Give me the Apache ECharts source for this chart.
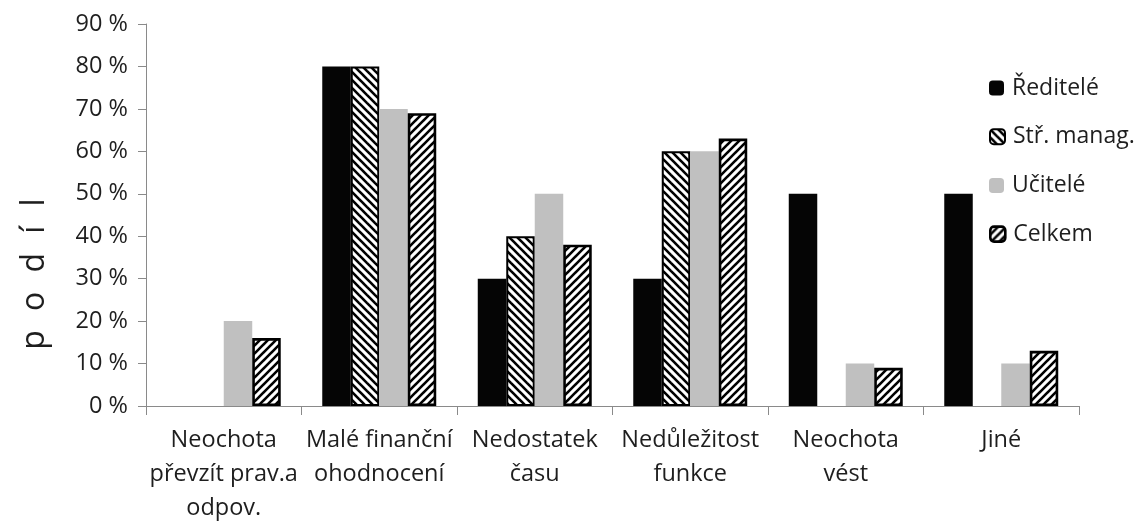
<!DOCTYPE html>
<html>
<head>
<meta charset="utf-8">
<title>Důvody</title>
<script src="https://cdn.jsdelivr.net/npm/echarts@6/dist/echarts.min.js"></script>
<style>
  html, body { margin: 0; padding: 0; background: #fff; }
  #chart { width: 1138px; height: 525px; }
</style>
</head>
<body>
<div id="chart"></div>
<script>
// Categories (reasons) and shares per respondent group, in percent
const categories = [
  'Neochota\npřevzít prav.a\nodpov.',
  'Malé finanční\nohodnocení',
  'Nedostatek\nčasu',
  'Nedůležitost\nfunkce',
  'Neochota\nvést',
  'Jiné'
];
const seriesNames = ['Ředitelé', 'Stř. manag.', 'Učitelé', 'Celkem'];
const reditele = [0, 80, 30, 30, 50, 50];
const strManag = [0, 80, 40, 60, 0, 0];
const ucitele  = [20, 70, 50, 60, 10, 10];
const celkem   = [16, 69, 38, 63, 9, 13];
const yTicks = { min: 0, max: 90, interval: 10 };
const yTitle = 'podíl';

const FONT = '"Open Sans", "Noto Sans", sans-serif';
const TEXT = '#1e1e1e';
const AXIS = '#8a8a8a';

// Diagonal hatch tile; dir = 1 draws "\" stripes, dir = -1 draws "/" stripes
function hatch(dir, size, lw) {
  const c = document.createElement('canvas');
  c.width = size; c.height = size;
  const g = c.getContext('2d');
  g.fillStyle = '#fff';
  g.fillRect(0, 0, size, size);
  g.strokeStyle = '#000';
  g.lineWidth = lw;
  g.lineCap = 'square';
  for (let k = -1; k <= 1; k++) {
    g.beginPath();
    if (dir > 0) {
      g.moveTo(k * size, 0);
      g.lineTo(k * size + size, size);
    } else {
      g.moveTo(k * size + size, 0);
      g.lineTo(k * size, size);
    }
    g.stroke();
  }
  return { image: c, repeat: 'repeat' };
}

const styles = [
  { color: '#050505', borderWidth: 0 },
  { color: hatch(1, 8, 2.6), borderColor: '#000', borderWidth: 2 },
  { color: '#c0c0c0', borderWidth: 0 },
  { color: hatch(-1, 8, 2.6), borderColor: '#000', borderWidth: 2.6 }
];
const values = [reditele, strManag, ucitele, celkem];

const series = seriesNames.map((name, i) => ({
  name,
  type: 'bar',
  barGap: '0%',
  barCategoryGap: '26.7%',
  itemStyle: styles[i],
  // zero bars get no outline so nothing is drawn on the axis
  data: values[i].map(v => v === 0 ? { value: v, itemStyle: { borderWidth: 0 } } : v),
  emphasis: { disabled: true },
  animation: false
}));

// one legend block per series, stacked down the right side
const legendTop = 76, legendStep = 48.7;
const legends = seriesNames.map((name, i) => ({
  orient: 'vertical',
  left: 989,
  top: legendTop + i * legendStep,
  itemWidth: 15,
  itemHeight: 15,
  itemGap: 7,
  padding: 0,
  itemStyle: { borderWidth: 'inherit' },
  textStyle: { fontFamily: FONT, fontSize: 23, color: TEXT, lineHeight: 24, padding: [0, 0, 0, 3] },
  data: [name]
}));

const chart = echarts.init(document.getElementById('chart'), null, { renderer: 'canvas' });
chart.setOption({
  backgroundColor: '#fff',
  animation: false,
  grid: { left: 146, right: 59, top: 24, bottom: 110, containLabel: false },
  legend: legends,
  xAxis: {
    type: 'category',
    data: categories,
    axisLine: { lineStyle: { color: AXIS, width: 1 } },
    axisTick: { show: true, length: 9, alignWithLabel: false, lineStyle: { color: AXIS } },
    axisLabel: {
      interval: 0,
      margin: 17,
      fontFamily: FONT,
      fontSize: 23.5,
      color: TEXT,
      lineHeight: 34,
      align: 'center'
    },
    splitLine: { show: false }
  },
  yAxis: {
    type: 'value',
    min: yTicks.min,
    max: yTicks.max,
    interval: yTicks.interval,
    axisLine: { show: true, lineStyle: { color: AXIS, width: 1 } },
    axisTick: { show: true, length: 8, lineStyle: { color: AXIS } },
    axisLabel: {
      margin: 18,
      fontFamily: FONT,
      fontSize: 23.5,
      color: TEXT,
      formatter: '{value} %'
    },
    splitLine: { show: false }
  },
  // rotated, letter-spaced axis title on the left
  graphic: [{
    type: 'text',
    x: 35,
    y: 274,
    rotation: Math.PI / 2,
    style: {
      text: yTitle.split('').join('\u2002\u200A'),
      font: '32px ' + FONT,
      fill: TEXT,
      align: 'center',
      verticalAlign: 'middle'
    }
  }],
  series
});
</script>
</body>
</html>
